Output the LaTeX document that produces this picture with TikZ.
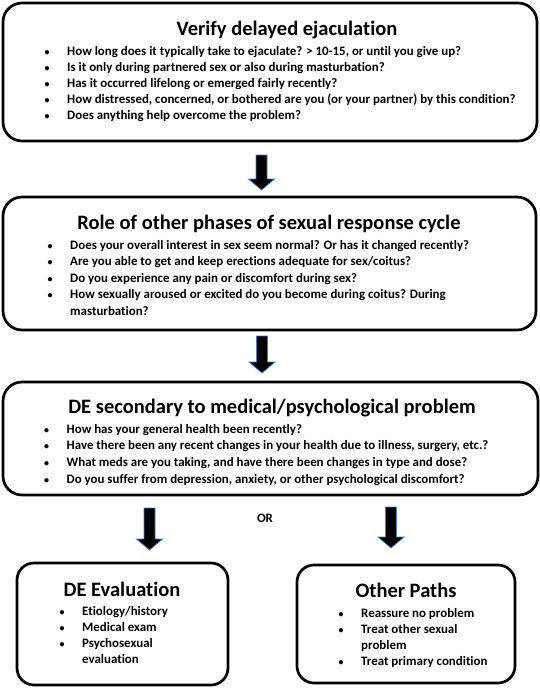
\documentclass[tikz,border=0pt]{standalone}
\usepackage{fontspec}
\setmainfont[Ligatures=NoCommon]{Carlito}
\usetikzlibrary{calc}
\definecolor{arrowblue}{HTML}{4F7DB0}
\tikzset{
  x=1pt, y=-1pt,
  box/.style={draw=black, line width=2.7pt, rounded corners=19pt, inner sep=0pt},
  smallbox/.style={box, rounded corners=17pt},
  boxtitle/.style={anchor=base, inner sep=0pt, font=\fontsize{20.5}{24}\selectfont\bfseries},
  blist/.style={anchor=base west, inner sep=0pt, align=left, font=\fontsize{12.9}{16.3}\selectfont\bfseries},
  blockarrow/.style={fill=black, draw=arrowblue, line width=0.8pt, line join=miter},
}
\newcommand\bul{\llap{{\fontsize{10}{12}\selectfont\textbullet}\hspace{17.5pt}}}
\newcommand\blockarr[2]{%
  \draw[blockarrow] let \p1=(#1), \p2=(#2) in
    (\x1-5.5pt,\y1) -- (\x1+5.5pt,\y1) -- (\x1+5.5pt,\y2+11pt) -- (\x1+13pt,\y2+11pt)
    -- (\x1,\y2) -- (\x1-13pt,\y2+11pt) -- (\x1-5.5pt,\y2+11pt) -- cycle;}
\begin{document}
\begin{tikzpicture}
\useasboundingbox (0,0) rectangle (540,689);
% boxes
\node[box, minimum width=534pt, minimum height=138pt] (b1) at (270,72) {};
\node[box, minimum width=533pt, minimum height=133pt] (b2) at (269.5,263.5) {};
\node[box, minimum width=535pt, minimum height=113pt] (b3) at (270.5,438.5) {};
\node[smallbox, minimum width=211pt, minimum height=122pt] (b4) at (122.5,624) {};
\node[smallbox, minimum width=218pt, minimum height=118pt] (b5) at (406,624) {};
% titles
\node[boxtitle] (t1) at (287,35) {Verify delayed ejaculation};
\node[boxtitle] (t2) at (269,229) {Role of other phases of sexual response cycle};
\node[boxtitle] (t3) at (272,413) {DE secondary to medical/psychological problem};
\node[boxtitle] (t4) at (122,596) {DE Evaluation};
\node[boxtitle] (t5) at (406,597) {Other Paths};
% lists
\node[blist] (l1) at (67,55) {\fontsize{12.9}{16}\selectfont\begin{tabular}[t]{@{}l@{}}
\bul How long does it typically take to ejaculate? > 10-15, or until you give up?\\
\bul Is it only during partnered sex or also during masturbation?\\
\bul Has it occurred lifelong or emerged fairly recently?\\
\bul How distressed, concerned, or bothered are you (or your partner) by this condition?\\
\bul Does anything help overcome the problem?
\end{tabular}};
\node[blist] (l2) at (70,249) {\fontsize{12.9}{16.5}\selectfont\begin{tabular}[t]{@{}l@{}}
\bul Does your overall interest in sex seem normal? Or has it changed recently?\\
\bul Are you able to get and keep erections adequate for sex/coitus?\\
\bul Do you experience any pain or discomfort during sex?\\
\bul How sexually aroused or excited do you become during coitus? During\\
masturbation?
\end{tabular}};
\node[blist] (l3) at (66.5,433) {\fontsize{12.9}{16.7}\selectfont\begin{tabular}[t]{@{}l@{}}
\bul How has your general health been recently?\\
\bul Have there been any recent changes in your health due to illness, surgery, etc.?\\
\bul What meds are you taking, and have there been changes in type and dose?\\
\bul Do you suffer from depression, anxiety, or other psychological discomfort?
\end{tabular}};
\node[blist] (l4) at (82,615) {\fontsize{12.9}{16}\selectfont\begin{tabular}[t]{@{}l@{}}
\bul Etiology/history\\
\bul Medical exam\\
\bul Psychosexual\\
evaluation
\end{tabular}};
\node[blist] (l5) at (361,617) {\fontsize{12.9}{16.3}\selectfont\begin{tabular}[t]{@{}l@{}}
\bul Reassure no problem\\
\bul Treat other sexual\\
problem\\
\bul Treat primary condition
\end{tabular}};
\node[anchor=base, inner sep=0pt, font=\fontsize{12.9}{15}\selectfont\bfseries] (or) at (265,522) {OR};
% arrows
\coordinate (a1s) at (261.5,155); \coordinate (a1e) at (261.5,190);
\coordinate (a2s) at (262,336); \coordinate (a2e) at (262,373);
\coordinate (a3s) at (149.5,508); \coordinate (a3e) at (149.5,550);
\coordinate (a4s) at (391,507); \coordinate (a4e) at (391,548);
\blockarr{a1s}{a1e}
\blockarr{a2s}{a2e}
\blockarr{a3s}{a3e}
\blockarr{a4s}{a4e}
\end{tikzpicture}
\end{document}
